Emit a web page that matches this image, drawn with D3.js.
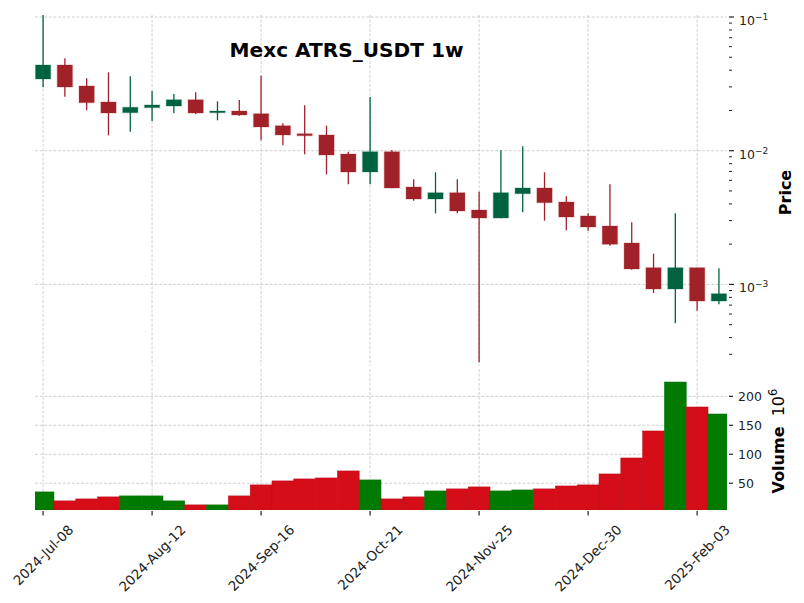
<!DOCTYPE html>
<html><head><meta charset="utf-8">
<script src="https://cdn.jsdelivr.net/npm/d3@7"></script>
<style>body{margin:0;background:#fff} svg{display:block} text{font-family:"DejaVu Sans",sans-serif}</style>
</head><body><svg id="c" width="804" height="603"></svg>
<script>
const dates = ["2024-07-08","2024-07-15","2024-07-22","2024-07-29","2024-08-05","2024-08-12","2024-08-19","2024-08-26",
  "2024-09-02","2024-09-09","2024-09-16","2024-09-23","2024-09-30","2024-10-07","2024-10-14","2024-10-21",
  "2024-10-28","2024-11-04","2024-11-11","2024-11-18","2024-11-25","2024-12-02","2024-12-09","2024-12-16",
  "2024-12-23","2024-12-30","2025-01-06","2025-01-13","2025-01-20","2025-01-27","2025-02-03","2025-02-10"];
const opens  = [0.03438,0.04375,0.03048,0.02313,0.01924,0.02099,0.02159,0.02406,0.01924,0.01981,0.01891,0.01538,0.01340,0.01311,0.009447,0.00693,
  0.009829,0.005353,0.004353,0.004852,0.003601,0.003137,0.004769,0.00526,0.004133,0.00325,0.002734,0.00204,0.001334,0.0009238,0.001334,0.000751];
const highs  = [0.1035,0.0491,0.03479,0.03858,0.0360,0.02796,0.02655,0.02734,0.02342,0.02394,0.03639,0.01603,0.02186,0.01538,0.009829,0.02522,
  0.01012,0.006109,0.006895,0.006109,0.004935,0.01007,0.01079,0.006895,0.00456,0.003401,0.005607,0.002913,0.001697,0.003401,0.001334,0.001319];
const lows   = [0.02979,0.02535,0.02005,0.01303,0.01387,0.01668,0.01905,0.01881,0.01688,0.01827,0.01196,0.01097,0.009398,0.006658,0.005607,0.005607,
  0.00523,0.004227,0.003401,0.003401,0.0002615,0.00313,0.003461,0.002996,0.002539,0.002522,0.001947,0.001289,0.000863,0.0005117,0.0006355,0.0007098];
const closes = [0.04375,0.02995,0.02286,0.01914,0.02112,0.02198,0.02406,0.01914,0.01981,0.01849,0.01504,0.01311,0.01295,0.00929,0.00693,0.009829,
  0.00526,0.004353,0.004852,0.00354,0.003137,0.004852,0.00526,0.004085,0.003192,0.002687,0.001995,0.001304,0.0009238,0.001334,0.000751,0.000852];
const volumes = [35,19.5,22.9,26.4,28.1,28.1,19.5,12.6,12.6,28.1,47.1,54,57.4,59.1,71.2,55.7,
  22.9,26.4,36.7,40.2,43.6,36.7,38.4,40.2,45.3,47.1,66,93.6,140.2,224.7,181.6,169.5]; // x 10^6
const xTickIdx = [0,5,10,15,20,25,30];
const priceTicks = [0.1,0.01,0.001];
const priceExps = ["\u22121","\u22122","\u22123"];
const volumeTicks = [50,100,150,200];
const priceLimits = [0.0002453, 0.1035];
const title = "Mexc ATRS_USDT 1w";

const svg = d3.select("#c");
const L=35, R=727, pTop=15, pBot=366, vTop=369, vBot=510;
const n = dates.length;
const parse = d3.timeParse("%Y-%m-%d"), fmt = d3.timeFormat("%Y-%b-%d");
const x = d3.scaleLinear().domain([-0.37, n-1+0.37]).range([L,R]);
const y = d3.scaleLog().domain(priceLimits).range([pBot,pTop]);
const vy = d3.scaleLinear().domain([0.3*d3.min(volumes), 1.1*d3.max(volumes)]).range([vBot,vTop]);
const step = x(1)-x(0);
const UP='#006340', DN='#a02128', VUP='#007a00', VDN='#d50d18';
const gridC='#c4c4c4', dash='3,1.6';
const data = dates.map((d,i)=>({i,o:opens[i],h:highs[i],l:lows[i],c:closes[i],v:volumes[i],up:closes[i]>=opens[i]}));

const defs = svg.append("defs");
defs.append("clipPath").attr("id","cp").append("rect").attr("x",L).attr("y",pTop).attr("width",R-L).attr("height",pBot-pTop);
defs.append("clipPath").attr("id","cv").append("rect").attr("x",L).attr("y",vTop).attr("width",R-L).attr("height",vBot-vTop);

// grids
const g = svg.append("g").attr("stroke",gridC).attr("stroke-width",0.8).attr("stroke-dasharray",dash);
g.selectAll(".vx").data(xTickIdx).join("line").attr("x1",d=>x(d)).attr("x2",d=>x(d)).attr("y1",pTop).attr("y2",pBot);
g.selectAll(".vv").data(xTickIdx).join("line").attr("x1",d=>x(d)).attr("x2",d=>x(d)).attr("y1",vTop).attr("y2",vBot);
g.selectAll(".hp").data(priceTicks).join("line").attr("x1",L).attr("x2",R).attr("y1",d=>y(d)).attr("y2",d=>y(d));
g.selectAll(".hv").data(volumeTicks).join("line").attr("x1",L).attr("x2",R).attr("y1",d=>vy(d)).attr("y2",d=>vy(d));

// candles
const cg = svg.append("g").attr("clip-path","url(#cp)");
const bw = step*0.7;
cg.selectAll(".w").data(data).join("line")
  .attr("x1",d=>x(d.i)).attr("x2",d=>x(d.i)).attr("y1",d=>y(d.h)).attr("y2",d=>y(d.l))
  .attr("stroke",d=>d.up?UP:DN).attr("stroke-width",1.3);
cg.selectAll(".bh").data(data).join("rect")
  .attr("x",d=>x(d.i)-bw/2-0.8).attr("width",bw+1.6)
  .attr("y",d=>y(Math.max(d.o,d.c))-0.8).attr("height",d=>Math.max(1,y(Math.min(d.o,d.c))-y(Math.max(d.o,d.c)))+1.6)
  .attr("fill",d=>d.up?UP:DN).attr("opacity",0.18);
cg.selectAll(".b").data(data).join("rect")
  .attr("x",d=>x(d.i)-bw/2).attr("width",bw)
  .attr("y",d=>y(Math.max(d.o,d.c))).attr("height",d=>Math.max(1,y(Math.min(d.o,d.c))-y(Math.max(d.o,d.c))))
  .attr("fill",d=>d.up?UP:DN);

// volume
const vg = svg.append("g").attr("clip-path","url(#cv)");
vg.selectAll("rect").data(data).join("rect")
  .attr("x",d=>x(d.i)-step/2).attr("width",step)
  .attr("y",d=>vy(d.v)).attr("height",d=>vBot-vy(d.v))
  .attr("fill",d=>d.up?VUP:VDN).attr("stroke",d=>d.up?'#006e00':'#b80c16').attr("stroke-width",0.5);

// price axis (right, log)
const TC='#222';
const ax = svg.append("g");
const minor = [];
for (let e=-4;e<=-1;e++) for (let m=2;m<=9;m++){ const v=m*Math.pow(10,e); if(v>=priceLimits[0]&&v<=priceLimits[1]) minor.push(v); }
ax.selectAll(".mn").data(minor).join("line").attr("x1",R+2).attr("x2",R+5).attr("y1",d=>y(d)).attr("y2",d=>y(d)).attr("stroke",TC).attr("stroke-width",1);
ax.selectAll(".mj").data(priceTicks).join("line").attr("x1",R+2).attr("x2",R+7).attr("y1",d=>y(d)).attr("y2",d=>y(d)).attr("stroke",TC).attr("stroke-width",1.2);
const pl = ax.selectAll(".pl").data(priceTicks).join("text").attr("x",R+12).attr("y",d=>y(d)+8).attr("font-size",12.5).attr("fill",TC);
pl.append("tspan").text("10");
pl.append("tspan").attr("dy",-5).attr("font-size",9).text((d,i)=>priceExps[i]);

// volume axis
ax.selectAll(".vt").data(volumeTicks).join("line").attr("x1",R+2).attr("x2",R+6).attr("y1",d=>vy(d)).attr("y2",d=>vy(d)).attr("stroke",TC).attr("stroke-width",1.2);
ax.selectAll(".vl").data(volumeTicks).join("text").attr("x",R+11).attr("y",d=>vy(d)+4.5).attr("font-size",12.5).attr("fill",TC).text(d=>d);

// x axis ticks
ax.selectAll(".xt").data(xTickIdx).join("line").attr("x1",d=>x(d)).attr("x2",d=>x(d)).attr("y1",vBot+1).attr("y2",vBot+5.5).attr("stroke",TC).attr("stroke-width",1.2);
const fs=13.5;
ax.selectAll(".xl").data(xTickIdx).join("text").attr("font-size",fs).attr("fill",TC)
  .attr("text-anchor","middle").attr("dominant-baseline","central").text(d=>fmt(parse(dates[d])))
  .each(function(d){
    const w=this.getComputedTextLength(); const side=(w+fs*1.1)/Math.SQRT2;
    d3.select(this).attr("transform",`translate(${x(d)},${vBot+12+side/2}) rotate(-45)`);
  });

// labels
svg.append("text").attr("x",346.5).attr("y",56.5).attr("text-anchor","middle").attr("font-size",20.1).attr("font-weight","bold").attr("fill","#000").text(title);
svg.append("text").attr("transform",`translate(791,${(pTop+pBot)/2+2}) rotate(-90)`).attr("text-anchor","middle").attr("font-size",16).attr("font-weight","bold").attr("fill","#000").text("Price");
const vl = svg.append("text").attr("transform",`translate(784,441) rotate(-90)`).attr("text-anchor","middle").attr("font-size",16).attr("fill","#000");
vl.append("tspan").attr("font-weight","bold").text("Volume");
vl.append("tspan").text("\u00a0\u00a010");
vl.append("tspan").attr("dy",-7).attr("font-size",11.5).text("6");
</script></body></html>
